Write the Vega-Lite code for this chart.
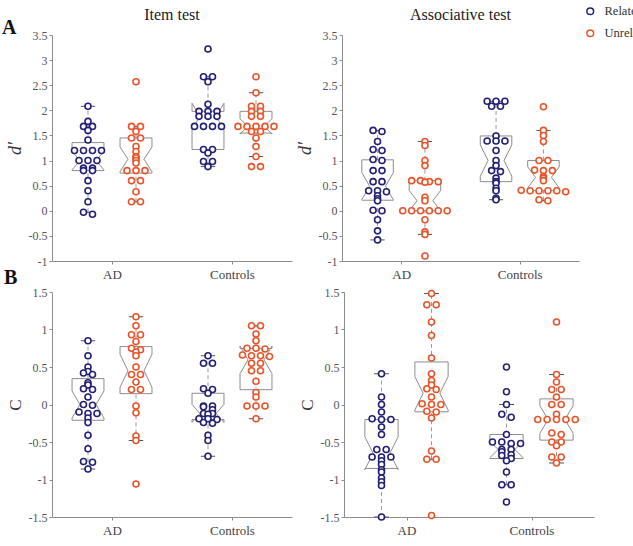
{
"$schema": "https://vega.github.io/schema/vega-lite/v6.json",
"background": "white",
"padding": {"left": 2, "top": 5, "right": 0, "bottom": 0},
"datasets": {"pts": [
{"test":"Item","measure":"dprime","group":"AD","cond":"Related","value":2.08},
{"test":"Item","measure":"dprime","group":"AD","cond":"Related","value":1.78},
{"test":"Item","measure":"dprime","group":"AD","cond":"Related","value":1.68},
{"test":"Item","measure":"dprime","group":"AD","cond":"Related","value":1.68},
{"test":"Item","measure":"dprime","group":"AD","cond":"Related","value":1.6},
{"test":"Item","measure":"dprime","group":"AD","cond":"Related","value":1.41},
{"test":"Item","measure":"dprime","group":"AD","cond":"Related","value":1.2},
{"test":"Item","measure":"dprime","group":"AD","cond":"Related","value":1.2},
{"test":"Item","measure":"dprime","group":"AD","cond":"Related","value":1.2},
{"test":"Item","measure":"dprime","group":"AD","cond":"Related","value":1.2},
{"test":"Item","measure":"dprime","group":"AD","cond":"Related","value":1.0},
{"test":"Item","measure":"dprime","group":"AD","cond":"Related","value":1.0},
{"test":"Item","measure":"dprime","group":"AD","cond":"Related","value":1.0},
{"test":"Item","measure":"dprime","group":"AD","cond":"Related","value":0.85},
{"test":"Item","measure":"dprime","group":"AD","cond":"Related","value":0.85},
{"test":"Item","measure":"dprime","group":"AD","cond":"Related","value":0.8},
{"test":"Item","measure":"dprime","group":"AD","cond":"Related","value":0.8},
{"test":"Item","measure":"dprime","group":"AD","cond":"Related","value":0.6},
{"test":"Item","measure":"dprime","group":"AD","cond":"Related","value":0.4},
{"test":"Item","measure":"dprime","group":"AD","cond":"Related","value":0.18},
{"test":"Item","measure":"dprime","group":"AD","cond":"Related","value":-0.03},
{"test":"Item","measure":"dprime","group":"AD","cond":"Related","value":-0.07},
{"test":"Item","measure":"dprime","group":"AD","cond":"Unrelated","value":2.57},
{"test":"Item","measure":"dprime","group":"AD","cond":"Unrelated","value":1.68},
{"test":"Item","measure":"dprime","group":"AD","cond":"Unrelated","value":1.68},
{"test":"Item","measure":"dprime","group":"AD","cond":"Unrelated","value":1.58},
{"test":"Item","measure":"dprime","group":"AD","cond":"Unrelated","value":1.45},
{"test":"Item","measure":"dprime","group":"AD","cond":"Unrelated","value":1.45},
{"test":"Item","measure":"dprime","group":"AD","cond":"Unrelated","value":1.28},
{"test":"Item","measure":"dprime","group":"AD","cond":"Unrelated","value":1.18},
{"test":"Item","measure":"dprime","group":"AD","cond":"Unrelated","value":1.08},
{"test":"Item","measure":"dprime","group":"AD","cond":"Unrelated","value":1.05},
{"test":"Item","measure":"dprime","group":"AD","cond":"Unrelated","value":1.0},
{"test":"Item","measure":"dprime","group":"AD","cond":"Unrelated","value":0.95},
{"test":"Item","measure":"dprime","group":"AD","cond":"Unrelated","value":0.8},
{"test":"Item","measure":"dprime","group":"AD","cond":"Unrelated","value":0.8},
{"test":"Item","measure":"dprime","group":"AD","cond":"Unrelated","value":0.8},
{"test":"Item","measure":"dprime","group":"AD","cond":"Unrelated","value":0.6},
{"test":"Item","measure":"dprime","group":"AD","cond":"Unrelated","value":0.6},
{"test":"Item","measure":"dprime","group":"AD","cond":"Unrelated","value":0.38},
{"test":"Item","measure":"dprime","group":"AD","cond":"Unrelated","value":0.18},
{"test":"Item","measure":"dprime","group":"AD","cond":"Unrelated","value":0.18},
{"test":"Item","measure":"dprime","group":"Controls","cond":"Related","value":3.22},
{"test":"Item","measure":"dprime","group":"Controls","cond":"Related","value":2.67},
{"test":"Item","measure":"dprime","group":"Controls","cond":"Related","value":2.67},
{"test":"Item","measure":"dprime","group":"Controls","cond":"Related","value":2.57},
{"test":"Item","measure":"dprime","group":"Controls","cond":"Related","value":2.12},
{"test":"Item","measure":"dprime","group":"Controls","cond":"Related","value":1.98},
{"test":"Item","measure":"dprime","group":"Controls","cond":"Related","value":1.98},
{"test":"Item","measure":"dprime","group":"Controls","cond":"Related","value":1.98},
{"test":"Item","measure":"dprime","group":"Controls","cond":"Related","value":1.88},
{"test":"Item","measure":"dprime","group":"Controls","cond":"Related","value":1.88},
{"test":"Item","measure":"dprime","group":"Controls","cond":"Related","value":1.88},
{"test":"Item","measure":"dprime","group":"Controls","cond":"Related","value":1.68},
{"test":"Item","measure":"dprime","group":"Controls","cond":"Related","value":1.68},
{"test":"Item","measure":"dprime","group":"Controls","cond":"Related","value":1.68},
{"test":"Item","measure":"dprime","group":"Controls","cond":"Related","value":1.68},
{"test":"Item","measure":"dprime","group":"Controls","cond":"Related","value":1.22},
{"test":"Item","measure":"dprime","group":"Controls","cond":"Related","value":1.22},
{"test":"Item","measure":"dprime","group":"Controls","cond":"Related","value":1.15},
{"test":"Item","measure":"dprime","group":"Controls","cond":"Related","value":0.98},
{"test":"Item","measure":"dprime","group":"Controls","cond":"Related","value":0.98},
{"test":"Item","measure":"dprime","group":"Controls","cond":"Related","value":0.88},
{"test":"Item","measure":"dprime","group":"Controls","cond":"Unrelated","value":2.67},
{"test":"Item","measure":"dprime","group":"Controls","cond":"Unrelated","value":2.35},
{"test":"Item","measure":"dprime","group":"Controls","cond":"Unrelated","value":2.08},
{"test":"Item","measure":"dprime","group":"Controls","cond":"Unrelated","value":2.08},
{"test":"Item","measure":"dprime","group":"Controls","cond":"Unrelated","value":1.98},
{"test":"Item","measure":"dprime","group":"Controls","cond":"Unrelated","value":1.98},
{"test":"Item","measure":"dprime","group":"Controls","cond":"Unrelated","value":1.88},
{"test":"Item","measure":"dprime","group":"Controls","cond":"Unrelated","value":1.88},
{"test":"Item","measure":"dprime","group":"Controls","cond":"Unrelated","value":1.68},
{"test":"Item","measure":"dprime","group":"Controls","cond":"Unrelated","value":1.68},
{"test":"Item","measure":"dprime","group":"Controls","cond":"Unrelated","value":1.68},
{"test":"Item","measure":"dprime","group":"Controls","cond":"Unrelated","value":1.68},
{"test":"Item","measure":"dprime","group":"Controls","cond":"Unrelated","value":1.68},
{"test":"Item","measure":"dprime","group":"Controls","cond":"Unrelated","value":1.58},
{"test":"Item","measure":"dprime","group":"Controls","cond":"Unrelated","value":1.58},
{"test":"Item","measure":"dprime","group":"Controls","cond":"Unrelated","value":1.45},
{"test":"Item","measure":"dprime","group":"Controls","cond":"Unrelated","value":1.28},
{"test":"Item","measure":"dprime","group":"Controls","cond":"Unrelated","value":1.08},
{"test":"Item","measure":"dprime","group":"Controls","cond":"Unrelated","value":0.88},
{"test":"Item","measure":"dprime","group":"Controls","cond":"Unrelated","value":0.88},
{"test":"Assoc","measure":"dprime","group":"AD","cond":"Related","value":1.6},
{"test":"Assoc","measure":"dprime","group":"AD","cond":"Related","value":1.58},
{"test":"Assoc","measure":"dprime","group":"AD","cond":"Related","value":1.38},
{"test":"Assoc","measure":"dprime","group":"AD","cond":"Related","value":1.22},
{"test":"Assoc","measure":"dprime","group":"AD","cond":"Related","value":1.2},
{"test":"Assoc","measure":"dprime","group":"AD","cond":"Related","value":1.02},
{"test":"Assoc","measure":"dprime","group":"AD","cond":"Related","value":1.0},
{"test":"Assoc","measure":"dprime","group":"AD","cond":"Related","value":0.8},
{"test":"Assoc","measure":"dprime","group":"AD","cond":"Related","value":0.8},
{"test":"Assoc","measure":"dprime","group":"AD","cond":"Related","value":0.58},
{"test":"Assoc","measure":"dprime","group":"AD","cond":"Related","value":0.58},
{"test":"Assoc","measure":"dprime","group":"AD","cond":"Related","value":0.4},
{"test":"Assoc","measure":"dprime","group":"AD","cond":"Related","value":0.4},
{"test":"Assoc","measure":"dprime","group":"AD","cond":"Related","value":0.38},
{"test":"Assoc","measure":"dprime","group":"AD","cond":"Related","value":0.3},
{"test":"Assoc","measure":"dprime","group":"AD","cond":"Related","value":0.24},
{"test":"Assoc","measure":"dprime","group":"AD","cond":"Related","value":0.2},
{"test":"Assoc","measure":"dprime","group":"AD","cond":"Related","value":0.01},
{"test":"Assoc","measure":"dprime","group":"AD","cond":"Related","value":0.0},
{"test":"Assoc","measure":"dprime","group":"AD","cond":"Related","value":-0.18},
{"test":"Assoc","measure":"dprime","group":"AD","cond":"Related","value":-0.4},
{"test":"Assoc","measure":"dprime","group":"AD","cond":"Related","value":-0.58},
{"test":"Assoc","measure":"dprime","group":"AD","cond":"Unrelated","value":1.38},
{"test":"Assoc","measure":"dprime","group":"AD","cond":"Unrelated","value":1.3},
{"test":"Assoc","measure":"dprime","group":"AD","cond":"Unrelated","value":1.0},
{"test":"Assoc","measure":"dprime","group":"AD","cond":"Unrelated","value":0.9},
{"test":"Assoc","measure":"dprime","group":"AD","cond":"Unrelated","value":0.6},
{"test":"Assoc","measure":"dprime","group":"AD","cond":"Unrelated","value":0.6},
{"test":"Assoc","measure":"dprime","group":"AD","cond":"Unrelated","value":0.58},
{"test":"Assoc","measure":"dprime","group":"AD","cond":"Unrelated","value":0.58},
{"test":"Assoc","measure":"dprime","group":"AD","cond":"Unrelated","value":0.57},
{"test":"Assoc","measure":"dprime","group":"AD","cond":"Unrelated","value":0.27},
{"test":"Assoc","measure":"dprime","group":"AD","cond":"Unrelated","value":0.2},
{"test":"Assoc","measure":"dprime","group":"AD","cond":"Unrelated","value":0.0},
{"test":"Assoc","measure":"dprime","group":"AD","cond":"Unrelated","value":0.0},
{"test":"Assoc","measure":"dprime","group":"AD","cond":"Unrelated","value":0.0},
{"test":"Assoc","measure":"dprime","group":"AD","cond":"Unrelated","value":0.0},
{"test":"Assoc","measure":"dprime","group":"AD","cond":"Unrelated","value":0.0},
{"test":"Assoc","measure":"dprime","group":"AD","cond":"Unrelated","value":0.0},
{"test":"Assoc","measure":"dprime","group":"AD","cond":"Unrelated","value":-0.18},
{"test":"Assoc","measure":"dprime","group":"AD","cond":"Unrelated","value":-0.42},
{"test":"Assoc","measure":"dprime","group":"AD","cond":"Unrelated","value":-0.47},
{"test":"Assoc","measure":"dprime","group":"AD","cond":"Unrelated","value":-0.9},
{"test":"Assoc","measure":"dprime","group":"Controls","cond":"Related","value":2.18},
{"test":"Assoc","measure":"dprime","group":"Controls","cond":"Related","value":2.18},
{"test":"Assoc","measure":"dprime","group":"Controls","cond":"Related","value":2.18},
{"test":"Assoc","measure":"dprime","group":"Controls","cond":"Related","value":2.08},
{"test":"Assoc","measure":"dprime","group":"Controls","cond":"Related","value":2.08},
{"test":"Assoc","measure":"dprime","group":"Controls","cond":"Related","value":1.49},
{"test":"Assoc","measure":"dprime","group":"Controls","cond":"Related","value":1.39},
{"test":"Assoc","measure":"dprime","group":"Controls","cond":"Related","value":1.39},
{"test":"Assoc","measure":"dprime","group":"Controls","cond":"Related","value":1.39},
{"test":"Assoc","measure":"dprime","group":"Controls","cond":"Related","value":1.2},
{"test":"Assoc","measure":"dprime","group":"Controls","cond":"Related","value":1.0},
{"test":"Assoc","measure":"dprime","group":"Controls","cond":"Related","value":0.9},
{"test":"Assoc","measure":"dprime","group":"Controls","cond":"Related","value":0.8},
{"test":"Assoc","measure":"dprime","group":"Controls","cond":"Related","value":0.78},
{"test":"Assoc","measure":"dprime","group":"Controls","cond":"Related","value":0.65},
{"test":"Assoc","measure":"dprime","group":"Controls","cond":"Related","value":0.58},
{"test":"Assoc","measure":"dprime","group":"Controls","cond":"Related","value":0.55},
{"test":"Assoc","measure":"dprime","group":"Controls","cond":"Related","value":0.45},
{"test":"Assoc","measure":"dprime","group":"Controls","cond":"Related","value":0.4},
{"test":"Assoc","measure":"dprime","group":"Controls","cond":"Related","value":0.25},
{"test":"Assoc","measure":"dprime","group":"Controls","cond":"Related","value":0.22},
{"test":"Assoc","measure":"dprime","group":"Controls","cond":"Unrelated","value":2.07},
{"test":"Assoc","measure":"dprime","group":"Controls","cond":"Unrelated","value":1.6},
{"test":"Assoc","measure":"dprime","group":"Controls","cond":"Unrelated","value":1.5},
{"test":"Assoc","measure":"dprime","group":"Controls","cond":"Unrelated","value":1.38},
{"test":"Assoc","measure":"dprime","group":"Controls","cond":"Unrelated","value":1.0},
{"test":"Assoc","measure":"dprime","group":"Controls","cond":"Unrelated","value":1.0},
{"test":"Assoc","measure":"dprime","group":"Controls","cond":"Unrelated","value":0.81},
{"test":"Assoc","measure":"dprime","group":"Controls","cond":"Unrelated","value":0.8},
{"test":"Assoc","measure":"dprime","group":"Controls","cond":"Unrelated","value":0.8},
{"test":"Assoc","measure":"dprime","group":"Controls","cond":"Unrelated","value":0.68},
{"test":"Assoc","measure":"dprime","group":"Controls","cond":"Unrelated","value":0.65},
{"test":"Assoc","measure":"dprime","group":"Controls","cond":"Unrelated","value":0.6},
{"test":"Assoc","measure":"dprime","group":"Controls","cond":"Unrelated","value":0.41},
{"test":"Assoc","measure":"dprime","group":"Controls","cond":"Unrelated","value":0.4},
{"test":"Assoc","measure":"dprime","group":"Controls","cond":"Unrelated","value":0.4},
{"test":"Assoc","measure":"dprime","group":"Controls","cond":"Unrelated","value":0.4},
{"test":"Assoc","measure":"dprime","group":"Controls","cond":"Unrelated","value":0.4},
{"test":"Assoc","measure":"dprime","group":"Controls","cond":"Unrelated","value":0.38},
{"test":"Assoc","measure":"dprime","group":"Controls","cond":"Unrelated","value":0.22},
{"test":"Assoc","measure":"dprime","group":"Controls","cond":"Unrelated","value":0.2},
{"test":"Item","measure":"C","group":"AD","cond":"Related","value":0.85},
{"test":"Item","measure":"C","group":"AD","cond":"Related","value":0.65},
{"test":"Item","measure":"C","group":"AD","cond":"Related","value":0.5},
{"test":"Item","measure":"C","group":"AD","cond":"Related","value":0.44},
{"test":"Item","measure":"C","group":"AD","cond":"Related","value":0.42},
{"test":"Item","measure":"C","group":"AD","cond":"Related","value":0.4},
{"test":"Item","measure":"C","group":"AD","cond":"Related","value":0.29},
{"test":"Item","measure":"C","group":"AD","cond":"Related","value":0.26},
{"test":"Item","measure":"C","group":"AD","cond":"Related","value":0.21},
{"test":"Item","measure":"C","group":"AD","cond":"Related","value":0.2},
{"test":"Item","measure":"C","group":"AD","cond":"Related","value":0.1},
{"test":"Item","measure":"C","group":"AD","cond":"Related","value":0.0},
{"test":"Item","measure":"C","group":"AD","cond":"Related","value":-0.01},
{"test":"Item","measure":"C","group":"AD","cond":"Related","value":-0.1},
{"test":"Item","measure":"C","group":"AD","cond":"Related","value":-0.12},
{"test":"Item","measure":"C","group":"AD","cond":"Related","value":-0.12},
{"test":"Item","measure":"C","group":"AD","cond":"Related","value":-0.18},
{"test":"Item","measure":"C","group":"AD","cond":"Related","value":-0.24},
{"test":"Item","measure":"C","group":"AD","cond":"Related","value":-0.41},
{"test":"Item","measure":"C","group":"AD","cond":"Related","value":-0.59},
{"test":"Item","measure":"C","group":"AD","cond":"Related","value":-0.76},
{"test":"Item","measure":"C","group":"AD","cond":"Related","value":-0.77},
{"test":"Item","measure":"C","group":"AD","cond":"Related","value":-0.86},
{"test":"Item","measure":"C","group":"AD","cond":"Unrelated","value":1.17},
{"test":"Item","measure":"C","group":"AD","cond":"Unrelated","value":1.05},
{"test":"Item","measure":"C","group":"AD","cond":"Unrelated","value":0.93},
{"test":"Item","measure":"C","group":"AD","cond":"Unrelated","value":0.93},
{"test":"Item","measure":"C","group":"AD","cond":"Unrelated","value":0.84},
{"test":"Item","measure":"C","group":"AD","cond":"Unrelated","value":0.75},
{"test":"Item","measure":"C","group":"AD","cond":"Unrelated","value":0.73},
{"test":"Item","measure":"C","group":"AD","cond":"Unrelated","value":0.7},
{"test":"Item","measure":"C","group":"AD","cond":"Unrelated","value":0.65},
{"test":"Item","measure":"C","group":"AD","cond":"Unrelated","value":0.5},
{"test":"Item","measure":"C","group":"AD","cond":"Unrelated","value":0.4},
{"test":"Item","measure":"C","group":"AD","cond":"Unrelated","value":0.4},
{"test":"Item","measure":"C","group":"AD","cond":"Unrelated","value":0.3},
{"test":"Item","measure":"C","group":"AD","cond":"Unrelated","value":0.2},
{"test":"Item","measure":"C","group":"AD","cond":"Unrelated","value":0.2},
{"test":"Item","measure":"C","group":"AD","cond":"Unrelated","value":-0.02},
{"test":"Item","measure":"C","group":"AD","cond":"Unrelated","value":-0.11},
{"test":"Item","measure":"C","group":"AD","cond":"Unrelated","value":-0.42},
{"test":"Item","measure":"C","group":"AD","cond":"Unrelated","value":-0.48},
{"test":"Item","measure":"C","group":"AD","cond":"Unrelated","value":-1.06},
{"test":"Item","measure":"C","group":"Controls","cond":"Related","value":0.65},
{"test":"Item","measure":"C","group":"Controls","cond":"Related","value":0.55},
{"test":"Item","measure":"C","group":"Controls","cond":"Related","value":0.55},
{"test":"Item","measure":"C","group":"Controls","cond":"Related","value":0.21},
{"test":"Item","measure":"C","group":"Controls","cond":"Related","value":0.2},
{"test":"Item","measure":"C","group":"Controls","cond":"Related","value":0.15},
{"test":"Item","measure":"C","group":"Controls","cond":"Related","value":-0.02},
{"test":"Item","measure":"C","group":"Controls","cond":"Related","value":-0.02},
{"test":"Item","measure":"C","group":"Controls","cond":"Related","value":-0.03},
{"test":"Item","measure":"C","group":"Controls","cond":"Related","value":-0.07},
{"test":"Item","measure":"C","group":"Controls","cond":"Related","value":-0.12},
{"test":"Item","measure":"C","group":"Controls","cond":"Related","value":-0.12},
{"test":"Item","measure":"C","group":"Controls","cond":"Related","value":-0.13},
{"test":"Item","measure":"C","group":"Controls","cond":"Related","value":-0.19},
{"test":"Item","measure":"C","group":"Controls","cond":"Related","value":-0.19},
{"test":"Item","measure":"C","group":"Controls","cond":"Related","value":-0.2},
{"test":"Item","measure":"C","group":"Controls","cond":"Related","value":-0.24},
{"test":"Item","measure":"C","group":"Controls","cond":"Related","value":-0.25},
{"test":"Item","measure":"C","group":"Controls","cond":"Related","value":-0.41},
{"test":"Item","measure":"C","group":"Controls","cond":"Related","value":-0.48},
{"test":"Item","measure":"C","group":"Controls","cond":"Related","value":-0.69},
{"test":"Item","measure":"C","group":"Controls","cond":"Unrelated","value":1.05},
{"test":"Item","measure":"C","group":"Controls","cond":"Unrelated","value":1.05},
{"test":"Item","measure":"C","group":"Controls","cond":"Unrelated","value":0.94},
{"test":"Item","measure":"C","group":"Controls","cond":"Unrelated","value":0.85},
{"test":"Item","measure":"C","group":"Controls","cond":"Unrelated","value":0.75},
{"test":"Item","measure":"C","group":"Controls","cond":"Unrelated","value":0.75},
{"test":"Item","measure":"C","group":"Controls","cond":"Unrelated","value":0.74},
{"test":"Item","measure":"C","group":"Controls","cond":"Unrelated","value":0.66},
{"test":"Item","measure":"C","group":"Controls","cond":"Unrelated","value":0.65},
{"test":"Item","measure":"C","group":"Controls","cond":"Unrelated","value":0.65},
{"test":"Item","measure":"C","group":"Controls","cond":"Unrelated","value":0.64},
{"test":"Item","measure":"C","group":"Controls","cond":"Unrelated","value":0.55},
{"test":"Item","measure":"C","group":"Controls","cond":"Unrelated","value":0.55},
{"test":"Item","measure":"C","group":"Controls","cond":"Unrelated","value":0.45},
{"test":"Item","measure":"C","group":"Controls","cond":"Unrelated","value":0.45},
{"test":"Item","measure":"C","group":"Controls","cond":"Unrelated","value":0.31},
{"test":"Item","measure":"C","group":"Controls","cond":"Unrelated","value":0.16},
{"test":"Item","measure":"C","group":"Controls","cond":"Unrelated","value":0.1},
{"test":"Item","measure":"C","group":"Controls","cond":"Unrelated","value":-0.02},
{"test":"Item","measure":"C","group":"Controls","cond":"Unrelated","value":-0.02},
{"test":"Item","measure":"C","group":"Controls","cond":"Unrelated","value":-0.02},
{"test":"Item","measure":"C","group":"Controls","cond":"Unrelated","value":-0.19},
{"test":"Assoc","measure":"C","group":"AD","cond":"Related","value":0.41},
{"test":"Assoc","measure":"C","group":"AD","cond":"Related","value":0.1},
{"test":"Assoc","measure":"C","group":"AD","cond":"Related","value":0.0},
{"test":"Assoc","measure":"C","group":"AD","cond":"Related","value":-0.1},
{"test":"Assoc","measure":"C","group":"AD","cond":"Related","value":-0.19},
{"test":"Assoc","measure":"C","group":"AD","cond":"Related","value":-0.2},
{"test":"Assoc","measure":"C","group":"AD","cond":"Related","value":-0.2},
{"test":"Assoc","measure":"C","group":"AD","cond":"Related","value":-0.3},
{"test":"Assoc","measure":"C","group":"AD","cond":"Related","value":-0.4},
{"test":"Assoc","measure":"C","group":"AD","cond":"Related","value":-0.6},
{"test":"Assoc","measure":"C","group":"AD","cond":"Related","value":-0.6},
{"test":"Assoc","measure":"C","group":"AD","cond":"Related","value":-0.7},
{"test":"Assoc","measure":"C","group":"AD","cond":"Related","value":-0.7},
{"test":"Assoc","measure":"C","group":"AD","cond":"Related","value":-0.7},
{"test":"Assoc","measure":"C","group":"AD","cond":"Related","value":-0.75},
{"test":"Assoc","measure":"C","group":"AD","cond":"Related","value":-0.8},
{"test":"Assoc","measure":"C","group":"AD","cond":"Related","value":-0.87},
{"test":"Assoc","measure":"C","group":"AD","cond":"Related","value":-0.9},
{"test":"Assoc","measure":"C","group":"AD","cond":"Related","value":-0.98},
{"test":"Assoc","measure":"C","group":"AD","cond":"Related","value":-1.03},
{"test":"Assoc","measure":"C","group":"AD","cond":"Related","value":-1.08},
{"test":"Assoc","measure":"C","group":"AD","cond":"Related","value":-1.5},
{"test":"Assoc","measure":"C","group":"AD","cond":"Unrelated","value":1.48},
{"test":"Assoc","measure":"C","group":"AD","cond":"Unrelated","value":1.33},
{"test":"Assoc","measure":"C","group":"AD","cond":"Unrelated","value":1.33},
{"test":"Assoc","measure":"C","group":"AD","cond":"Unrelated","value":1.1},
{"test":"Assoc","measure":"C","group":"AD","cond":"Unrelated","value":0.92},
{"test":"Assoc","measure":"C","group":"AD","cond":"Unrelated","value":0.62},
{"test":"Assoc","measure":"C","group":"AD","cond":"Unrelated","value":0.41},
{"test":"Assoc","measure":"C","group":"AD","cond":"Unrelated","value":0.32},
{"test":"Assoc","measure":"C","group":"AD","cond":"Unrelated","value":0.26},
{"test":"Assoc","measure":"C","group":"AD","cond":"Unrelated","value":0.21},
{"test":"Assoc","measure":"C","group":"AD","cond":"Unrelated","value":0.2},
{"test":"Assoc","measure":"C","group":"AD","cond":"Unrelated","value":0.1},
{"test":"Assoc","measure":"C","group":"AD","cond":"Unrelated","value":0.01},
{"test":"Assoc","measure":"C","group":"AD","cond":"Unrelated","value":0.0},
{"test":"Assoc","measure":"C","group":"AD","cond":"Unrelated","value":0.0},
{"test":"Assoc","measure":"C","group":"AD","cond":"Unrelated","value":-0.09},
{"test":"Assoc","measure":"C","group":"AD","cond":"Unrelated","value":-0.1},
{"test":"Assoc","measure":"C","group":"AD","cond":"Unrelated","value":-0.18},
{"test":"Assoc","measure":"C","group":"AD","cond":"Unrelated","value":-0.62},
{"test":"Assoc","measure":"C","group":"AD","cond":"Unrelated","value":-0.73},
{"test":"Assoc","measure":"C","group":"AD","cond":"Unrelated","value":-0.73},
{"test":"Assoc","measure":"C","group":"AD","cond":"Unrelated","value":-1.48},
{"test":"Assoc","measure":"C","group":"Controls","cond":"Related","value":0.5},
{"test":"Assoc","measure":"C","group":"Controls","cond":"Related","value":0.17},
{"test":"Assoc","measure":"C","group":"Controls","cond":"Related","value":0.0},
{"test":"Assoc","measure":"C","group":"Controls","cond":"Related","value":-0.13},
{"test":"Assoc","measure":"C","group":"Controls","cond":"Related","value":-0.17},
{"test":"Assoc","measure":"C","group":"Controls","cond":"Related","value":-0.4},
{"test":"Assoc","measure":"C","group":"Controls","cond":"Related","value":-0.5},
{"test":"Assoc","measure":"C","group":"Controls","cond":"Related","value":-0.5},
{"test":"Assoc","measure":"C","group":"Controls","cond":"Related","value":-0.52},
{"test":"Assoc","measure":"C","group":"Controls","cond":"Related","value":-0.52},
{"test":"Assoc","measure":"C","group":"Controls","cond":"Related","value":-0.6},
{"test":"Assoc","measure":"C","group":"Controls","cond":"Related","value":-0.6},
{"test":"Assoc","measure":"C","group":"Controls","cond":"Related","value":-0.63},
{"test":"Assoc","measure":"C","group":"Controls","cond":"Related","value":-0.67},
{"test":"Assoc","measure":"C","group":"Controls","cond":"Related","value":-0.68},
{"test":"Assoc","measure":"C","group":"Controls","cond":"Related","value":-0.72},
{"test":"Assoc","measure":"C","group":"Controls","cond":"Related","value":-0.75},
{"test":"Assoc","measure":"C","group":"Controls","cond":"Related","value":-0.9},
{"test":"Assoc","measure":"C","group":"Controls","cond":"Related","value":-1.07},
{"test":"Assoc","measure":"C","group":"Controls","cond":"Related","value":-1.07},
{"test":"Assoc","measure":"C","group":"Controls","cond":"Related","value":-1.3},
{"test":"Assoc","measure":"C","group":"Controls","cond":"Unrelated","value":1.1},
{"test":"Assoc","measure":"C","group":"Controls","cond":"Unrelated","value":0.4},
{"test":"Assoc","measure":"C","group":"Controls","cond":"Unrelated","value":0.3},
{"test":"Assoc","measure":"C","group":"Controls","cond":"Unrelated","value":0.2},
{"test":"Assoc","measure":"C","group":"Controls","cond":"Unrelated","value":0.2},
{"test":"Assoc","measure":"C","group":"Controls","cond":"Unrelated","value":0.1},
{"test":"Assoc","measure":"C","group":"Controls","cond":"Unrelated","value":0.0},
{"test":"Assoc","measure":"C","group":"Controls","cond":"Unrelated","value":0.0},
{"test":"Assoc","measure":"C","group":"Controls","cond":"Unrelated","value":-0.13},
{"test":"Assoc","measure":"C","group":"Controls","cond":"Unrelated","value":-0.2},
{"test":"Assoc","measure":"C","group":"Controls","cond":"Unrelated","value":-0.2},
{"test":"Assoc","measure":"C","group":"Controls","cond":"Unrelated","value":-0.2},
{"test":"Assoc","measure":"C","group":"Controls","cond":"Unrelated","value":-0.2},
{"test":"Assoc","measure":"C","group":"Controls","cond":"Unrelated","value":-0.2},
{"test":"Assoc","measure":"C","group":"Controls","cond":"Unrelated","value":-0.38},
{"test":"Assoc","measure":"C","group":"Controls","cond":"Unrelated","value":-0.4},
{"test":"Assoc","measure":"C","group":"Controls","cond":"Unrelated","value":-0.5},
{"test":"Assoc","measure":"C","group":"Controls","cond":"Unrelated","value":-0.5},
{"test":"Assoc","measure":"C","group":"Controls","cond":"Unrelated","value":-0.55},
{"test":"Assoc","measure":"C","group":"Controls","cond":"Unrelated","value":-0.7},
{"test":"Assoc","measure":"C","group":"Controls","cond":"Unrelated","value":-0.7},
{"test":"Assoc","measure":"C","group":"Controls","cond":"Unrelated","value":-0.78}
]},
"data": {"name": "pts"},
"config": {
  "view": {"stroke": null},
  "font": "Liberation Serif",
  "title": {"font": "Liberation Serif", "fontSize": 16, "fontWeight": "normal", "color": "#222", "offset": 6},
  "axis": {"labelFont": "Liberation Serif", "titleFont": "Liberation Serif", "labelFontSize": 12, "labelColor": "#555", "domainColor": "#8c8c8c", "tickColor": "#8c8c8c", "tickSize": 3, "grid": false, "titleFontWeight": "normal", "titleColor": "#333", "titleFontSize": 18, "labelOverlap": false, "labelBound": false},
  "axisX": {"labelFontSize": 13, "labelColor": "#444", "labelPadding": 4},
  "axisY": {"titlePadding": 4},
  "legend": {"orient": "none", "legendX": 532, "legendY": -30, "title": null, "labelFont": "Liberation Serif", "labelFontSize": 12.5, "labelColor": "#333", "symbolType": "circle", "symbolSize": 45, "rowPadding": 8, "labelOffset": 8}
},
"resolve": {"scale": {"color": "shared"}, "legend": {"color": "shared"}},
"title": {"text": "A", "anchor": "start", "frame": "bounds", "offset": -33, "dx": -2, "fontSize": 20, "fontWeight": "bold", "color": "#111"},
"spacing": -2,
"vconcat": [
{
 "title": {"text": "B", "orient": "bottom", "anchor": "start", "frame": "bounds", "offset": -13, "dx": -2, "fontSize": 20, "fontWeight": "bold", "color": "#111"},
 "spacing": 4,
 "hconcat": [
 {
  "width": 240, "height": 226,
  "title": "Item test",
  "transform": [
   {"filter": "datum.test == 'Item' && datum.measure == 'dprime'"},
   {"calculate": "(datum.group == 'AD' ? 1 : 2) + (datum.cond == 'Related' ? -0.2 : 0.2)", "as": "xc"}
  ],
  "layer": [
   {
    "transform": [
     {"calculate": "round(datum.value*20)", "as": "bin"},
     {"window": [{"op": "row_number", "as": "rk"}, {"op": "count", "as": "cnt"}], "groupby": ["group", "cond", "bin"], "frame": [null, null]},
     {"calculate": "datum.xc + (datum.rk - (datum.cnt+1)/2)*0.075", "as": "px"}
    ],
    "mark": {"type": "point", "opacity": 0},
    "encoding": {
     "x": {"field": "px", "type": "quantitative", "scale": {"domain": [0.5, 2.5], "nice": false, "zero": false}, "axis": {"title": null, "values": [1, 2], "labelExpr": "datum.value == 1 ? 'AD' : 'Controls'"}},
     "y": {"field": "value", "type": "quantitative", "scale": {"domain": [-1, 3.5], "nice": false, "zero": false}, "axis": {"title": "d′", "titleFontStyle": "italic", "values": [-1, -0.5, 0, 0.5, 1, 1.5, 2, 2.5, 3, 3.5], "tickCount": 10, "labelOverlap": false, "labelExpr": "datum.value + ''"}}
    }
   },
   {
    "transform": [
     {"joinaggregate": [{"op": "q1", "field": "value", "as": "q1"}, {"op": "q3", "field": "value", "as": "q3"}], "groupby": ["group", "cond"]},
     {"calculate": "datum.value >= datum.q1 - 1.5*(datum.q3-datum.q1) && datum.value <= datum.q3 + 1.5*(datum.q3-datum.q1) ? datum.value : null", "as": "w"},
     {"aggregate": [{"op": "min", "field": "w", "as": "lo"}, {"op": "max", "field": "w", "as": "hi"}, {"op": "min", "field": "q1", "as": "q1"}, {"op": "min", "field": "q3", "as": "q3"}], "groupby": ["group", "cond", "xc"]},
     {"calculate": "datum.xc - 0.06", "as": "cl"},
     {"calculate": "datum.xc + 0.06", "as": "cr"}
    ],
    "layer": [
     {"mark": {"type": "rule", "strokeDash": [4, 3], "color": "#9a9a9a"}, "encoding": {"x": {"field": "xc", "type": "quantitative"}, "y": {"field": "q3", "type": "quantitative"}, "y2": {"field": "hi"}}},
     {"mark": {"type": "rule", "strokeDash": [4, 3], "color": "#9a9a9a"}, "encoding": {"x": {"field": "xc", "type": "quantitative"}, "y": {"field": "lo", "type": "quantitative"}, "y2": {"field": "q1"}}},
     {"mark": {"type": "rule", "color": "#555"}, "encoding": {"x": {"field": "cl", "type": "quantitative"}, "x2": {"field": "cr"}, "y": {"field": "hi", "type": "quantitative"}}},
     {"mark": {"type": "rule", "color": "#555"}, "encoding": {"x": {"field": "cl", "type": "quantitative"}, "x2": {"field": "cr"}, "y": {"field": "lo", "type": "quantitative"}}}
    ]
   },
   {
    "transform": [
     {"aggregate": [{"op": "q1", "field": "value", "as": "q1"}, {"op": "q3", "field": "value", "as": "q3"}, {"op": "median", "field": "value", "as": "med"}, {"op": "count", "as": "n"}], "groupby": ["group", "cond", "xc"]},
     {"calculate": "datum.med - 1.57*(datum.q3-datum.q1)/sqrt(datum.n)", "as": "nlo"},
     {"calculate": "datum.med + 1.57*(datum.q3-datum.q1)/sqrt(datum.n)", "as": "nhi"},
     {"calculate": "[0,1,2,3,4,5,6,7,8,9,10]", "as": "v"},
     {"flatten": ["v"]},
     {"calculate": "datum.xc + (datum.v <= 4 || datum.v == 10 ? -1 : 1) * (datum.v == 2 || datum.v == 7 ? 0.067 : 0.133)", "as": "bx"},
     {"calculate": "datum.v == 0 || datum.v >= 9 ? datum.q1 : (datum.v == 1 || datum.v == 8 ? datum.nlo : (datum.v == 2 || datum.v == 7 ? datum.med : (datum.v == 3 || datum.v == 6 ? datum.nhi : datum.q3)))", "as": "by"}
    ],
    "mark": {"type": "line", "color": "#8c8c8c", "strokeWidth": 1},
    "encoding": {"x": {"field": "bx", "type": "quantitative"}, "y": {"field": "by", "type": "quantitative"}, "detail": [{"field": "group", "type": "nominal"}, {"field": "cond", "type": "nominal"}], "order": {"field": "v", "type": "quantitative"}}
   },
   {
    "transform": [
     {"calculate": "round(datum.value*20)", "as": "bin"},
     {"window": [{"op": "row_number", "as": "rk"}, {"op": "count", "as": "cnt"}], "groupby": ["group", "cond", "bin"], "frame": [null, null]},
     {"calculate": "datum.xc + (datum.rk - (datum.cnt+1)/2)*0.075", "as": "px"}
    ],
    "mark": {"type": "point", "filled": false, "fill": "white", "size": 36, "strokeWidth": 1.6, "opacity": 1},
    "encoding": {
     "x": {"field": "px", "type": "quantitative"},
     "y": {"field": "value", "type": "quantitative"},
     "color": {"field": "cond", "type": "nominal", "scale": {"domain": ["Related", "Unrelated"], "range": ["#231f74", "#e8542a"]}, "legend": {"encode": {"symbols": {"fill": {"value": {"expr": "datum.value == 'Related' ? '#231f74' : '#e8542a'"}}, "fillOpacity": {"value": 1}, "strokeWidth": {"value": 0}}}}}
    }
   }
  ]
 },
 {
  "width": 237, "height": 226,
  "title": "Associative test",
  "transform": [
   {"filter": "datum.test == 'Assoc' && datum.measure == 'dprime'"},
   {"calculate": "(datum.group == 'AD' ? 1 : 2) + (datum.cond == 'Related' ? -0.2 : 0.2)", "as": "xc"}
  ],
  "layer": [
   {
    "transform": [
     {"calculate": "round(datum.value*20)", "as": "bin"},
     {"window": [{"op": "row_number", "as": "rk"}, {"op": "count", "as": "cnt"}], "groupby": ["group", "cond", "bin"], "frame": [null, null]},
     {"calculate": "datum.xc + (datum.rk - (datum.cnt+1)/2)*0.075", "as": "px"}
    ],
    "mark": {"type": "point", "opacity": 0},
    "encoding": {
     "x": {"field": "px", "type": "quantitative", "scale": {"domain": [0.5, 2.5], "nice": false, "zero": false}, "axis": {"title": null, "values": [1, 2], "labelExpr": "datum.value == 1 ? 'AD' : 'Controls'"}},
     "y": {"field": "value", "type": "quantitative", "scale": {"domain": [-1, 3.5], "nice": false, "zero": false}, "axis": {"title": "d′", "titleFontStyle": "italic", "values": [-1, -0.5, 0, 0.5, 1, 1.5, 2, 2.5, 3, 3.5], "tickCount": 10, "labelOverlap": false, "labelExpr": "datum.value + ''"}}
    }
   },
   {
    "transform": [
     {"joinaggregate": [{"op": "q1", "field": "value", "as": "q1"}, {"op": "q3", "field": "value", "as": "q3"}], "groupby": ["group", "cond"]},
     {"calculate": "datum.value >= datum.q1 - 1.5*(datum.q3-datum.q1) && datum.value <= datum.q3 + 1.5*(datum.q3-datum.q1) ? datum.value : null", "as": "w"},
     {"aggregate": [{"op": "min", "field": "w", "as": "lo"}, {"op": "max", "field": "w", "as": "hi"}, {"op": "min", "field": "q1", "as": "q1"}, {"op": "min", "field": "q3", "as": "q3"}], "groupby": ["group", "cond", "xc"]},
     {"calculate": "datum.xc - 0.06", "as": "cl"},
     {"calculate": "datum.xc + 0.06", "as": "cr"}
    ],
    "layer": [
     {"mark": {"type": "rule", "strokeDash": [4, 3], "color": "#9a9a9a"}, "encoding": {"x": {"field": "xc", "type": "quantitative"}, "y": {"field": "q3", "type": "quantitative"}, "y2": {"field": "hi"}}},
     {"mark": {"type": "rule", "strokeDash": [4, 3], "color": "#9a9a9a"}, "encoding": {"x": {"field": "xc", "type": "quantitative"}, "y": {"field": "lo", "type": "quantitative"}, "y2": {"field": "q1"}}},
     {"mark": {"type": "rule", "color": "#555"}, "encoding": {"x": {"field": "cl", "type": "quantitative"}, "x2": {"field": "cr"}, "y": {"field": "hi", "type": "quantitative"}}},
     {"mark": {"type": "rule", "color": "#555"}, "encoding": {"x": {"field": "cl", "type": "quantitative"}, "x2": {"field": "cr"}, "y": {"field": "lo", "type": "quantitative"}}}
    ]
   },
   {
    "transform": [
     {"aggregate": [{"op": "q1", "field": "value", "as": "q1"}, {"op": "q3", "field": "value", "as": "q3"}, {"op": "median", "field": "value", "as": "med"}, {"op": "count", "as": "n"}], "groupby": ["group", "cond", "xc"]},
     {"calculate": "datum.med - 1.57*(datum.q3-datum.q1)/sqrt(datum.n)", "as": "nlo"},
     {"calculate": "datum.med + 1.57*(datum.q3-datum.q1)/sqrt(datum.n)", "as": "nhi"},
     {"calculate": "[0,1,2,3,4,5,6,7,8,9,10]", "as": "v"},
     {"flatten": ["v"]},
     {"calculate": "datum.xc + (datum.v <= 4 || datum.v == 10 ? -1 : 1) * (datum.v == 2 || datum.v == 7 ? 0.067 : 0.133)", "as": "bx"},
     {"calculate": "datum.v == 0 || datum.v >= 9 ? datum.q1 : (datum.v == 1 || datum.v == 8 ? datum.nlo : (datum.v == 2 || datum.v == 7 ? datum.med : (datum.v == 3 || datum.v == 6 ? datum.nhi : datum.q3)))", "as": "by"}
    ],
    "mark": {"type": "line", "color": "#8c8c8c", "strokeWidth": 1},
    "encoding": {"x": {"field": "bx", "type": "quantitative"}, "y": {"field": "by", "type": "quantitative"}, "detail": [{"field": "group", "type": "nominal"}, {"field": "cond", "type": "nominal"}], "order": {"field": "v", "type": "quantitative"}}
   },
   {
    "transform": [
     {"calculate": "round(datum.value*20)", "as": "bin"},
     {"window": [{"op": "row_number", "as": "rk"}, {"op": "count", "as": "cnt"}], "groupby": ["group", "cond", "bin"], "frame": [null, null]},
     {"calculate": "datum.xc + (datum.rk - (datum.cnt+1)/2)*0.075", "as": "px"}
    ],
    "mark": {"type": "point", "filled": false, "fill": "white", "size": 36, "strokeWidth": 1.6, "opacity": 1},
    "encoding": {
     "x": {"field": "px", "type": "quantitative"},
     "y": {"field": "value", "type": "quantitative"},
     "color": {"field": "cond", "type": "nominal", "scale": {"domain": ["Related", "Unrelated"], "range": ["#231f74", "#e8542a"]}, "legend": {"encode": {"symbols": {"fill": {"value": {"expr": "datum.value == 'Related' ? '#231f74' : '#e8542a'"}}, "fillOpacity": {"value": 1}, "strokeWidth": {"value": 0}}}}}
    }
   }
  ]
 }
 ]
},
{
 "spacing": 6,
 "hconcat": [
 {
  "width": 240, "height": 225,
  "transform": [
   {"filter": "datum.test == 'Item' && datum.measure == 'C'"},
   {"calculate": "(datum.group == 'AD' ? 1 : 2) + (datum.cond == 'Related' ? -0.2 : 0.2)", "as": "xc"}
  ],
  "layer": [
   {
    "transform": [
     {"calculate": "round(datum.value*20)", "as": "bin"},
     {"window": [{"op": "row_number", "as": "rk"}, {"op": "count", "as": "cnt"}], "groupby": ["group", "cond", "bin"], "frame": [null, null]},
     {"calculate": "datum.xc + (datum.rk - (datum.cnt+1)/2)*0.075", "as": "px"}
    ],
    "mark": {"type": "point", "opacity": 0},
    "encoding": {
     "x": {"field": "px", "type": "quantitative", "scale": {"domain": [0.5, 2.5], "nice": false, "zero": false}, "axis": {"title": null, "values": [1, 2], "labelExpr": "datum.value == 1 ? 'AD' : 'Controls'"}},
     "y": {"field": "value", "type": "quantitative", "scale": {"domain": [-1.5, 1.5], "nice": false, "zero": false}, "axis": {"title": "C", "titleFontSize": 17, "values": [-1.5, -1, -0.5, 0, 0.5, 1, 1.5], "tickCount": 7, "labelOverlap": false, "labelExpr": "datum.value + ''"}}
    }
   },
   {
    "transform": [
     {"joinaggregate": [{"op": "q1", "field": "value", "as": "q1"}, {"op": "q3", "field": "value", "as": "q3"}], "groupby": ["group", "cond"]},
     {"calculate": "datum.value >= datum.q1 - 1.5*(datum.q3-datum.q1) && datum.value <= datum.q3 + 1.5*(datum.q3-datum.q1) ? datum.value : null", "as": "w"},
     {"aggregate": [{"op": "min", "field": "w", "as": "lo"}, {"op": "max", "field": "w", "as": "hi"}, {"op": "min", "field": "q1", "as": "q1"}, {"op": "min", "field": "q3", "as": "q3"}], "groupby": ["group", "cond", "xc"]},
     {"calculate": "datum.xc - 0.06", "as": "cl"},
     {"calculate": "datum.xc + 0.06", "as": "cr"}
    ],
    "layer": [
     {"mark": {"type": "rule", "strokeDash": [4, 3], "color": "#9a9a9a"}, "encoding": {"x": {"field": "xc", "type": "quantitative"}, "y": {"field": "q3", "type": "quantitative"}, "y2": {"field": "hi"}}},
     {"mark": {"type": "rule", "strokeDash": [4, 3], "color": "#9a9a9a"}, "encoding": {"x": {"field": "xc", "type": "quantitative"}, "y": {"field": "lo", "type": "quantitative"}, "y2": {"field": "q1"}}},
     {"mark": {"type": "rule", "color": "#555"}, "encoding": {"x": {"field": "cl", "type": "quantitative"}, "x2": {"field": "cr"}, "y": {"field": "hi", "type": "quantitative"}}},
     {"mark": {"type": "rule", "color": "#555"}, "encoding": {"x": {"field": "cl", "type": "quantitative"}, "x2": {"field": "cr"}, "y": {"field": "lo", "type": "quantitative"}}}
    ]
   },
   {
    "transform": [
     {"aggregate": [{"op": "q1", "field": "value", "as": "q1"}, {"op": "q3", "field": "value", "as": "q3"}, {"op": "median", "field": "value", "as": "med"}, {"op": "count", "as": "n"}], "groupby": ["group", "cond", "xc"]},
     {"calculate": "datum.med - 1.57*(datum.q3-datum.q1)/sqrt(datum.n)", "as": "nlo"},
     {"calculate": "datum.med + 1.57*(datum.q3-datum.q1)/sqrt(datum.n)", "as": "nhi"},
     {"calculate": "[0,1,2,3,4,5,6,7,8,9,10]", "as": "v"},
     {"flatten": ["v"]},
     {"calculate": "datum.xc + (datum.v <= 4 || datum.v == 10 ? -1 : 1) * (datum.v == 2 || datum.v == 7 ? 0.067 : 0.133)", "as": "bx"},
     {"calculate": "datum.v == 0 || datum.v >= 9 ? datum.q1 : (datum.v == 1 || datum.v == 8 ? datum.nlo : (datum.v == 2 || datum.v == 7 ? datum.med : (datum.v == 3 || datum.v == 6 ? datum.nhi : datum.q3)))", "as": "by"}
    ],
    "mark": {"type": "line", "color": "#8c8c8c", "strokeWidth": 1},
    "encoding": {"x": {"field": "bx", "type": "quantitative"}, "y": {"field": "by", "type": "quantitative"}, "detail": [{"field": "group", "type": "nominal"}, {"field": "cond", "type": "nominal"}], "order": {"field": "v", "type": "quantitative"}}
   },
   {
    "transform": [
     {"calculate": "round(datum.value*20)", "as": "bin"},
     {"window": [{"op": "row_number", "as": "rk"}, {"op": "count", "as": "cnt"}], "groupby": ["group", "cond", "bin"], "frame": [null, null]},
     {"calculate": "datum.xc + (datum.rk - (datum.cnt+1)/2)*0.075", "as": "px"}
    ],
    "mark": {"type": "point", "filled": false, "fill": "white", "size": 36, "strokeWidth": 1.6, "opacity": 1},
    "encoding": {
     "x": {"field": "px", "type": "quantitative"},
     "y": {"field": "value", "type": "quantitative"},
     "color": {"field": "cond", "type": "nominal", "scale": {"domain": ["Related", "Unrelated"], "range": ["#231f74", "#e8542a"]}, "legend": {"encode": {"symbols": {"fill": {"value": {"expr": "datum.value == 'Related' ? '#231f74' : '#e8542a'"}}, "fillOpacity": {"value": 1}, "strokeWidth": {"value": 0}}}}}
    }
   }
  ]
 },
 {
  "width": 250, "height": 225,
  "transform": [
   {"filter": "datum.test == 'Assoc' && datum.measure == 'C'"},
   {"calculate": "(datum.group == 'AD' ? 1 : 2) + (datum.cond == 'Related' ? -0.2 : 0.2)", "as": "xc"}
  ],
  "layer": [
   {
    "transform": [
     {"calculate": "round(datum.value*20)", "as": "bin"},
     {"window": [{"op": "row_number", "as": "rk"}, {"op": "count", "as": "cnt"}], "groupby": ["group", "cond", "bin"], "frame": [null, null]},
     {"calculate": "datum.xc + (datum.rk - (datum.cnt+1)/2)*0.075", "as": "px"}
    ],
    "mark": {"type": "point", "opacity": 0},
    "encoding": {
     "x": {"field": "px", "type": "quantitative", "scale": {"domain": [0.5, 2.5], "nice": false, "zero": false}, "axis": {"title": null, "values": [1, 2], "labelExpr": "datum.value == 1 ? 'AD' : 'Controls'"}},
     "y": {"field": "value", "type": "quantitative", "scale": {"domain": [-1.5, 1.5], "nice": false, "zero": false}, "axis": {"title": "C", "titleFontSize": 17, "values": [-1.5, -1, -0.5, 0, 0.5, 1, 1.5], "tickCount": 7, "labelOverlap": false, "labelExpr": "datum.value + ''"}}
    }
   },
   {
    "transform": [
     {"joinaggregate": [{"op": "q1", "field": "value", "as": "q1"}, {"op": "q3", "field": "value", "as": "q3"}], "groupby": ["group", "cond"]},
     {"calculate": "datum.value >= datum.q1 - 1.5*(datum.q3-datum.q1) && datum.value <= datum.q3 + 1.5*(datum.q3-datum.q1) ? datum.value : null", "as": "w"},
     {"aggregate": [{"op": "min", "field": "w", "as": "lo"}, {"op": "max", "field": "w", "as": "hi"}, {"op": "min", "field": "q1", "as": "q1"}, {"op": "min", "field": "q3", "as": "q3"}], "groupby": ["group", "cond", "xc"]},
     {"calculate": "datum.xc - 0.06", "as": "cl"},
     {"calculate": "datum.xc + 0.06", "as": "cr"}
    ],
    "layer": [
     {"mark": {"type": "rule", "strokeDash": [4, 3], "color": "#9a9a9a"}, "encoding": {"x": {"field": "xc", "type": "quantitative"}, "y": {"field": "q3", "type": "quantitative"}, "y2": {"field": "hi"}}},
     {"mark": {"type": "rule", "strokeDash": [4, 3], "color": "#9a9a9a"}, "encoding": {"x": {"field": "xc", "type": "quantitative"}, "y": {"field": "lo", "type": "quantitative"}, "y2": {"field": "q1"}}},
     {"mark": {"type": "rule", "color": "#555"}, "encoding": {"x": {"field": "cl", "type": "quantitative"}, "x2": {"field": "cr"}, "y": {"field": "hi", "type": "quantitative"}}},
     {"mark": {"type": "rule", "color": "#555"}, "encoding": {"x": {"field": "cl", "type": "quantitative"}, "x2": {"field": "cr"}, "y": {"field": "lo", "type": "quantitative"}}}
    ]
   },
   {
    "transform": [
     {"aggregate": [{"op": "q1", "field": "value", "as": "q1"}, {"op": "q3", "field": "value", "as": "q3"}, {"op": "median", "field": "value", "as": "med"}, {"op": "count", "as": "n"}], "groupby": ["group", "cond", "xc"]},
     {"calculate": "datum.med - 1.57*(datum.q3-datum.q1)/sqrt(datum.n)", "as": "nlo"},
     {"calculate": "datum.med + 1.57*(datum.q3-datum.q1)/sqrt(datum.n)", "as": "nhi"},
     {"calculate": "[0,1,2,3,4,5,6,7,8,9,10]", "as": "v"},
     {"flatten": ["v"]},
     {"calculate": "datum.xc + (datum.v <= 4 || datum.v == 10 ? -1 : 1) * (datum.v == 2 || datum.v == 7 ? 0.067 : 0.133)", "as": "bx"},
     {"calculate": "datum.v == 0 || datum.v >= 9 ? datum.q1 : (datum.v == 1 || datum.v == 8 ? datum.nlo : (datum.v == 2 || datum.v == 7 ? datum.med : (datum.v == 3 || datum.v == 6 ? datum.nhi : datum.q3)))", "as": "by"}
    ],
    "mark": {"type": "line", "color": "#8c8c8c", "strokeWidth": 1},
    "encoding": {"x": {"field": "bx", "type": "quantitative"}, "y": {"field": "by", "type": "quantitative"}, "detail": [{"field": "group", "type": "nominal"}, {"field": "cond", "type": "nominal"}], "order": {"field": "v", "type": "quantitative"}}
   },
   {
    "transform": [
     {"calculate": "round(datum.value*20)", "as": "bin"},
     {"window": [{"op": "row_number", "as": "rk"}, {"op": "count", "as": "cnt"}], "groupby": ["group", "cond", "bin"], "frame": [null, null]},
     {"calculate": "datum.xc + (datum.rk - (datum.cnt+1)/2)*0.075", "as": "px"}
    ],
    "mark": {"type": "point", "filled": false, "fill": "white", "size": 36, "strokeWidth": 1.6, "opacity": 1},
    "encoding": {
     "x": {"field": "px", "type": "quantitative"},
     "y": {"field": "value", "type": "quantitative"},
     "color": {"field": "cond", "type": "nominal", "scale": {"domain": ["Related", "Unrelated"], "range": ["#231f74", "#e8542a"]}, "legend": {"encode": {"symbols": {"fill": {"value": {"expr": "datum.value == 'Related' ? '#231f74' : '#e8542a'"}}, "fillOpacity": {"value": 1}, "strokeWidth": {"value": 0}}}}}
    }
   }
  ]
 }
 ]
}
]
}
